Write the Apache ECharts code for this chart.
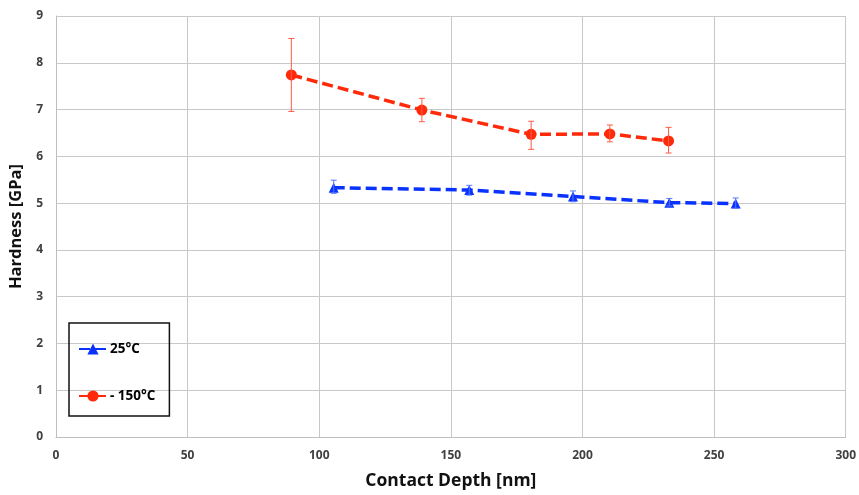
<!DOCTYPE html>
<html>
<head>
<meta charset="utf-8">
<script src="https://cdn.jsdelivr.net/npm/echarts@6/dist/echarts.min.js"></script>
<style>html,body{margin:0;padding:0;background:#fff}#c{width:859px;height:495px}</style>
</head>
<body>
<div id="c"></div>
<script>
const seriesNames = ['25°C', '- 150°C'];
const depth25 = [105.5, 157, 196.4, 233, 258.2];
const hard25 = [5.33, 5.28, 5.14, 5.01, 4.99];
const errLow25 = [5.21, 5.17, 5.03, 4.94, 4.89];
const errHigh25 = [5.49, 5.38, 5.26, 5.10, 5.11];
const depthM150 = [89.4, 139, 180.5, 210.4, 232.7];
const hardM150 = [7.74, 6.99, 6.47, 6.48, 6.33];
const errLowM150 = [6.96, 6.74, 6.15, 6.31, 6.07];
const errHighM150 = [8.52, 7.24, 6.75, 6.67, 6.62];
const xTitle = 'Contact Depth [nm]';
const yTitle = 'Hardness [GPa]';

const FONT = 'Open Sans';
const blue = '#0a32ff';
const red = '#ff2a0a';

function pairs(xs, ys) { return xs.map((x, i) => [x, ys[i]]); }
function errData(xs, lo, hi) { return xs.map((x, i) => [x, lo[i], hi[i]]); }

function errRender(color) {
  return function (params, api) {
    const x = api.value(0);
    const p1 = api.coord([x, api.value(1)]);
    const p2 = api.coord([x, api.value(2)]);
    const w = 3;
    const st = { stroke: color, lineWidth: 1 };
    return {
      type: 'group',
      children: [
        { type: 'line', shape: { x1: p1[0], y1: p1[1], x2: p2[0], y2: p2[1] }, style: st },
        { type: 'line', shape: { x1: p1[0] - w, y1: p1[1], x2: p1[0] + w, y2: p1[1] }, style: st },
        { type: 'line', shape: { x1: p2[0] - w, y1: p2[1], x2: p2[0] + w, y2: p2[1] }, style: st }
      ]
    };
  };
}

const chart = echarts.init(document.getElementById('c'));
chart.setOption({
  animation: false,
  backgroundColor: '#fff',
  grid: { left: 56, right: 10, top: 16, bottom: 58 },
  xAxis: {
    type: 'value', min: 0, max: 300, interval: 50,
    name: xTitle, nameLocation: 'middle', nameGap: 35,
    nameTextStyle: { fontFamily: FONT, fontWeight: 'bold', fontSize: 17.5, color: '#111' },
    axisLine: { show: true, lineStyle: { color: '#bfbfbf' } },
    axisTick: { show: false },
    axisLabel: { fontFamily: FONT, fontWeight: 'bold', fontSize: 12, color: '#404040', margin: 13 },
    splitLine: { show: true, lineStyle: { color: '#c8c8c8', width: 1 } }
  },
  yAxis: {
    type: 'value', min: 0, max: 9, interval: 1,
    name: yTitle, nameLocation: 'middle', nameGap: 27,
    nameTextStyle: { fontFamily: FONT, fontWeight: 'bold', fontSize: 16.5, color: '#111' },
    axisLine: { show: true, lineStyle: { color: '#bfbfbf' } },
    axisTick: { show: false },
    axisLabel: { fontFamily: FONT, fontWeight: 'bold', fontSize: 12, color: '#404040', margin: 13 },
    splitLine: { show: true, lineStyle: { color: '#c8c8c8', width: 1 } }
  },
  legend: {
    data: seriesNames,
    orient: 'vertical',
    left: 69, top: 323,
    padding: [19, 14, 13, 9],
    itemGap: 33,
    itemWidth: 28, itemHeight: 14,
    borderColor: '#111', borderWidth: 1.5,
    textStyle: { fontFamily: FONT, fontWeight: 'bold', fontSize: 13.5, color: '#000', padding: [0, 0, 0, -2] }
  },
  series: [
    {
      name: seriesNames[0], type: 'line', data: pairs(depth25, hard25),
      symbol: 'triangle', symbolSize: 10,
      itemStyle: { color: blue },
      lineStyle: { color: blue, width: 3.5, type: [11, 5] }, z: 3
    },
    {
      name: seriesNames[1], type: 'line', data: pairs(depthM150, hardM150),
      symbol: 'circle', symbolSize: 11,
      itemStyle: { color: red },
      lineStyle: { color: red, width: 3.5, type: [11, 5] }, z: 3
    },
    {
      name: 'err25', type: 'custom', data: errData(depth25, errLow25, errHigh25),
      renderItem: errRender('#5577ff'), z: 4, silent: true
    },
    {
      name: 'errM150', type: 'custom', data: errData(depthM150, errLowM150, errHighM150),
      renderItem: errRender('#ff5a44'), z: 4, silent: true
    }
  ]
});
</script>
</body>
</html>
